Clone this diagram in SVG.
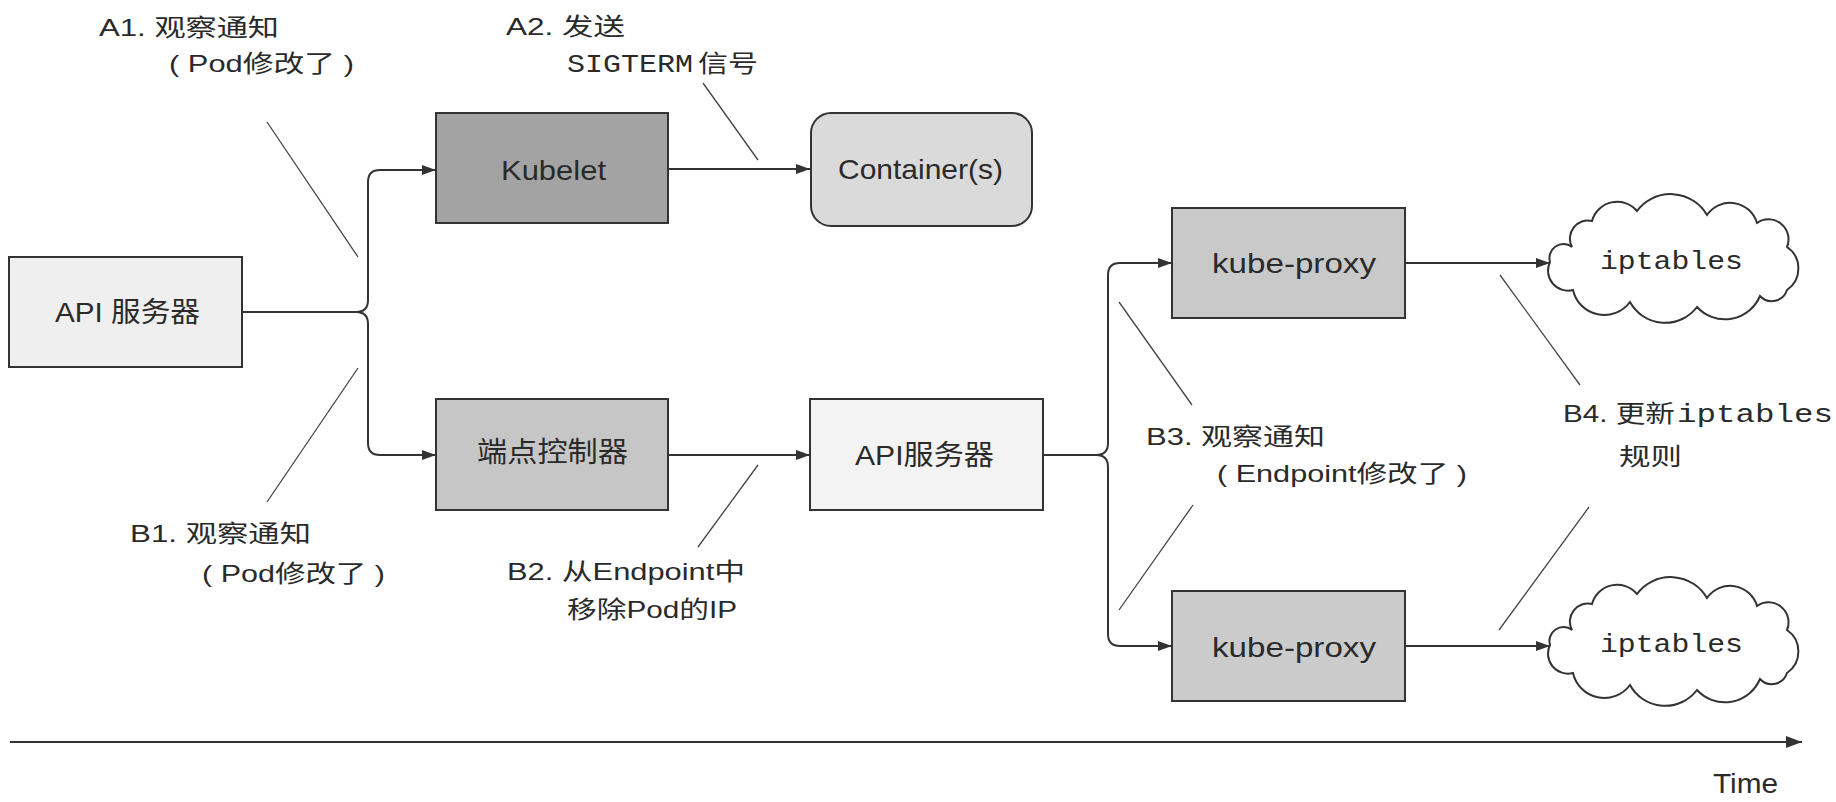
<svg xmlns="http://www.w3.org/2000/svg" width="1836" height="802" viewBox="0 0 1836 802">
<style>
.box{stroke:#333;stroke-width:2}
.lbl{font-family:"Liberation Sans","Noto Sans CJK SC",sans-serif;font-size:24px;fill:#2a2a2a}
.blbl{font-family:"Liberation Sans","Noto Sans CJK SC",sans-serif;font-size:28px;fill:#2a2a2a}
.mono{font-family:"Liberation Mono","Courier New",monospace;font-size:26px;fill:#2a2a2a}
.conn{fill:none;stroke:#333;stroke-width:2}
.lead{fill:none;stroke:#444;stroke-width:1.3}
.cloud{fill:#fff;stroke:#333;stroke-width:2}
</style>
<defs>
<marker id="arr" markerUnits="userSpaceOnUse" markerWidth="14" markerHeight="10" refX="14" refY="5" orient="auto">
<path d="M0,0 L14,5 L0,10 z" fill="#333"/>
</marker>
<marker id="tarr" markerUnits="userSpaceOnUse" markerWidth="16" markerHeight="12" refX="16" refY="6" orient="auto">
<path d="M0,0 L16,6 L0,12 z" fill="#333"/>
</marker>
<path id="cloudShape" d="M1550,262 A14,14 0 0 1 1572,247 A18,18 0 0 1 1592,221 A26,26 0 0 1 1637,211 A42,42 0 0 1 1707,215 A28,28 0 0 1 1757,223 A20,20 0 0 1 1787,247 A26,26 0 0 1 1787,290 A16,16 0 0 1 1760,296 A38,38 0 0 1 1697,307 A40,40 0 0 1 1630,302 A32,32 0 0 1 1573,290 A20,20 0 0 1 1550,262 Z"/>
</defs>
<rect width="1836" height="802" fill="#fff"/>

<g id="connectors">
<path class="conn" d="M242,312 H356 Q368,312 368,300 V182 Q368,170 380,170 H436" marker-end="url(#arr)"/>
<path class="conn" d="M356,312 Q368,312 368,324 V443 Q368,455 380,455 H436" marker-end="url(#arr)"/>
<path class="conn" d="M668,169 H810" marker-end="url(#arr)"/>
<path class="conn" d="M668,455 H810" marker-end="url(#arr)"/>
<path class="conn" d="M1043,455 H1096 Q1108,455 1108,443 V275 Q1108,263 1120,263 H1172" marker-end="url(#arr)"/>
<path class="conn" d="M1096,455 Q1108,455 1108,467 V634 Q1108,646 1120,646 H1172" marker-end="url(#arr)"/>
<path class="conn" d="M1405,263 H1550" marker-end="url(#arr)"/>
<path class="conn" d="M1405,646 H1550" marker-end="url(#arr)"/>
<path class="conn" d="M10,742 H1802" stroke-width="2.5" marker-end="url(#tarr)"/>
<path class="lead" d="M267,122 L358,257"/>
<path class="lead" d="M703,83 L758,160"/>
<path class="lead" d="M358,368 L267,502"/>
<path class="lead" d="M758,465 L698,547"/>
<path class="lead" d="M1119,302 L1192,405"/>
<path class="lead" d="M1193,505 L1119,610"/>
<path class="lead" d="M1500,275 L1580,385"/>
<path class="lead" d="M1589,507 L1499,630"/>
</g>

<g id="api1">
<rect class="box" x="9" y="257" width="233" height="110" fill="#efefef"/>
<text class="blbl" x="55" y="322" textLength="145" lengthAdjust="spacingAndGlyphs">API 服务器</text>
</g>
<g id="kubelet">
<rect class="box" x="436" y="113" width="232" height="110" fill="#a3a3a3"/>
<text class="blbl" x="501" y="180" textLength="105" lengthAdjust="spacingAndGlyphs">Kubelet</text>
</g>
<g id="container">
<rect class="box" x="811" y="113" width="221" height="113" rx="20" ry="20" fill="#dadada"/>
<text class="blbl" x="838" y="179" textLength="165" lengthAdjust="spacingAndGlyphs">Container(s)</text>
</g>
<g id="endpoint-controller">
<rect class="box" x="436" y="399" width="232" height="111" fill="#c6c6c6"/>
<text class="blbl" x="477" y="462" textLength="151" lengthAdjust="spacingAndGlyphs">端点控制器</text>
</g>
<g id="api2">
<rect class="box" x="810" y="399" width="233" height="111" fill="#f3f3f3"/>
<text class="blbl" x="855" y="465" textLength="139" lengthAdjust="spacingAndGlyphs">API服务器</text>
</g>
<g id="kube-proxy-1">
<rect class="box" x="1172" y="208" width="233" height="110" fill="#c9c9c9"/>
<text class="blbl" x="1212" y="273" textLength="164" lengthAdjust="spacingAndGlyphs">kube-proxy</text>
</g>
<g id="kube-proxy-2">
<rect class="box" x="1172" y="591" width="233" height="110" fill="#cbcbcb"/>
<text class="blbl" x="1212" y="657" textLength="164" lengthAdjust="spacingAndGlyphs">kube-proxy</text>
</g>
<g id="iptables-1">
<use href="#cloudShape" class="cloud"/>
<text class="mono" x="1600" y="269" textLength="143" lengthAdjust="spacingAndGlyphs">iptables</text>
</g>
<g id="iptables-2">
<use href="#cloudShape" class="cloud" transform="translate(0,383)"/>
<text class="mono" x="1600" y="652" textLength="143" lengthAdjust="spacingAndGlyphs">iptables</text>
</g>

<g id="labels">
<text class="lbl" x="99" y="36" textLength="180" lengthAdjust="spacingAndGlyphs">A1. 观察通知</text>
<text class="lbl" x="169" y="72" textLength="185" lengthAdjust="spacingAndGlyphs">( Pod修改了 )</text>
<text class="lbl" x="506" y="35" textLength="119" lengthAdjust="spacingAndGlyphs">A2. 发送</text>
<text class="mono" x="567" y="72" textLength="126" lengthAdjust="spacingAndGlyphs">SIGTERM</text>
<text class="lbl" x="698" y="72" textLength="60" lengthAdjust="spacingAndGlyphs">信号</text>
<text class="lbl" x="130" y="542" textLength="181" lengthAdjust="spacingAndGlyphs">B1. 观察通知</text>
<text class="lbl" x="202" y="582" textLength="183" lengthAdjust="spacingAndGlyphs">( Pod修改了 )</text>
<text class="lbl" x="507" y="580" textLength="238" lengthAdjust="spacingAndGlyphs">B2. 从Endpoint中</text>
<text class="lbl" x="567" y="618" textLength="170" lengthAdjust="spacingAndGlyphs">移除Pod的IP</text>
<text class="lbl" x="1146" y="445" textLength="179" lengthAdjust="spacingAndGlyphs">B3. 观察通知</text>
<text class="lbl" x="1217" y="482" textLength="250" lengthAdjust="spacingAndGlyphs">( Endpoint修改了 )</text>
<text class="lbl" x="1563" y="422" textLength="112" lengthAdjust="spacingAndGlyphs">B4. 更新</text>
<text class="mono" x="1677" y="422" textLength="156" lengthAdjust="spacingAndGlyphs">iptables</text>
<text class="lbl" x="1619" y="465" textLength="63" lengthAdjust="spacingAndGlyphs">规则</text>
<text class="blbl" x="1713" y="793" textLength="65" lengthAdjust="spacingAndGlyphs">Time</text>
</g>
</svg>
